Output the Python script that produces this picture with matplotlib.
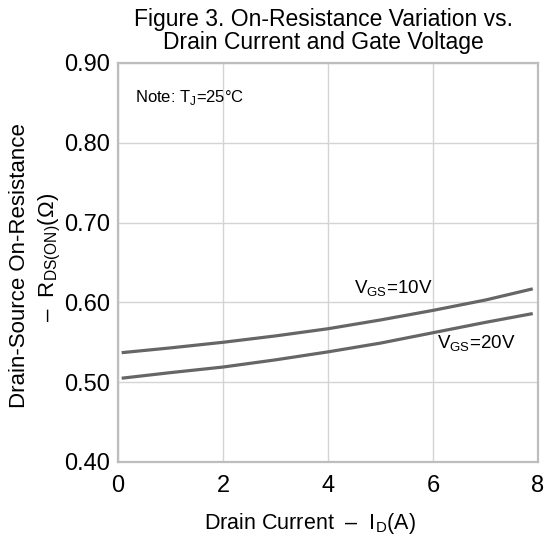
import matplotlib.pyplot as plt
import numpy as np

plt.rcParams['font.family'] = ['Liberation Sans', 'DejaVu Sans']
plt.rcParams['mathtext.fontset'] = 'custom'
plt.rcParams['mathtext.rm'] = 'Liberation Sans'

# drain current (A) and on-resistance (ohm)
id_vals = [0.07, 1, 2, 3, 4, 5, 6, 7, 7.9]
rds_10v = [0.537, 0.543, 0.550, 0.558, 0.567, 0.578, 0.590, 0.603, 0.617]
rds_20v = [0.505, 0.512, 0.519, 0.528, 0.538, 0.549, 0.562, 0.575, 0.586]

x_ticks = [0, 2, 4, 6, 8]
y_ticks = [0.40, 0.50, 0.60, 0.70, 0.80, 0.90]

fig = plt.figure(figsize=(5.45, 5.37), dpi=100)
ax = fig.add_axes([118 / 545, 1 - 462 / 537, 420 / 545, 399 / 537])

ax.plot(id_vals, rds_10v, color="#666666", lw=2.3, solid_capstyle="butt")
ax.plot(id_vals, rds_20v, color="#666666", lw=2.3, solid_capstyle="butt")

ax.set_xlim(0, 8)
ax.set_ylim(0.40, 0.90)
ax.set_xticks(x_ticks)
ax.set_yticks(y_ticks)
ax.set_yticklabels([f"{v:.2f}" for v in y_ticks])
ax.grid(True, color="#d4d4d4", lw=1.0)
ax.tick_params(length=0, labelsize=17)
ax.tick_params(axis="x", pad=9)
ax.tick_params(axis="y", pad=6)
for s in ax.spines.values():
    s.set_color("#bdbdbd")
    s.set_linewidth(1.6)

ax.text(4.5, 0.617, r"V$_{\mathregular{GS}}$=10V", fontsize=13.5, ha="left", va="center")
ax.text(6.08, 0.548, r"V$_{\mathregular{GS}}$=20V", fontsize=13.5, ha="left", va="center")
ax.text(0.32, 0.857, r"Note: T$_{\mathregular{J}}$=25°C", fontsize=12, ha="left", va="center")

fig.text(323 / 545, 1 - 31 / 537, "Figure 3. On-Resistance Variation vs.\nDrain Current and Gate Voltage",
         ha="center", va="center", fontsize=16.5, linespacing=1.05)
fig.text(310 / 545, 1 - 523 / 537, r"Drain Current  –  I$_{\mathregular{D}}$(A)",
         ha="center", va="center", fontsize=15.5)
fig.text(20 / 545, 1 - 266 / 537, "Drain-Source On-Resistance",
         ha="center", va="center", rotation=90, fontsize=16)
fig.text(50 / 545, 1 - 257 / 537, r"–  R$_{\mathregular{DS(ON)}}$(Ω)",
         ha="center", va="center", rotation=90, fontsize=16)

fig.savefig("out.png", dpi=100, facecolor="white")
